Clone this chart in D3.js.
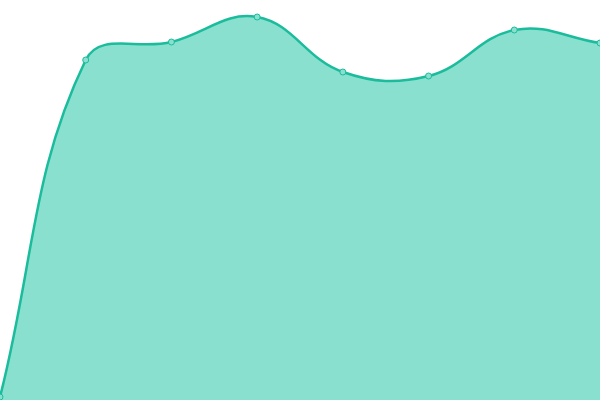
<!DOCTYPE html>
<html>
<head>
<meta charset="utf-8">
<script src="https://cdn.jsdelivr.net/npm/d3@7"></script>
<style>
  html, body { margin: 0; padding: 0; background: #fff; }
  svg { display: block; }
</style>
</head>
<body>
<div class="chart"></div>
<script>
// data
var categories = ["1", "2", "3", "4", "5", "6", "7", "8"];
var values = [3, 340, 358, 383, 328, 324, 370, 357];

var w = 600;
var h = 400;

// spline with distance-weighted control points (tension 0.4)
function Spline(context, tension) {
  this._context = context;
  this._tension = tension;
}

Spline.prototype = {
  areaStart: function() { this._line = 0; },
  areaEnd: function() { this._line = NaN; },
  lineStart: function() { this._xs = []; this._ys = []; },
  point: function(x, y) { this._xs.push(+x); this._ys.push(+y); },
  lineEnd: function() {
    var xs = this._xs, ys = this._ys, n = xs.length, ctx = this._context, t = this._tension;
    if (n) {
      if (this._line) ctx.lineTo(xs[0], ys[0]);
      else ctx.moveTo(xs[0], ys[0]);

      var cps = xs.map(function(x, i) {
        var y = ys[i];
        var px = xs[Math.max(i - 1, 0)], py = ys[Math.max(i - 1, 0)];
        var nx = xs[Math.min(i + 1, n - 1)], ny = ys[Math.min(i + 1, n - 1)];
        var d01 = Math.hypot(x - px, y - py);
        var d12 = Math.hypot(nx - x, ny - y);
        var s01 = d01 / (d01 + d12) || 0;
        var s12 = d12 / (d01 + d12) || 0;
        return {
          px: x - t * s01 * (nx - px), py: y - t * s01 * (ny - py),
          nx: x + t * s12 * (nx - px), ny: y + t * s12 * (ny - py)
        };
      });

      for (var i = 1; i < n; i++) {
        ctx.bezierCurveTo(cps[i - 1].nx, cps[i - 1].ny, cps[i].px, cps[i].py, xs[i], ys[i]);
      }
    }
    if (this._line || (this._line !== 0 && n === 1)) ctx.closePath();
    this._line = 1 - this._line;
  }
};

var curveSpline = function(context) { return new Spline(context, 0.4); };

var xScale = d3.scalePoint()
  .domain(categories)
  .range([0, w]);

var yScale = d3.scaleLinear()
  .domain([0, 400])
  .range([h, 0]);

var data = categories.map(function(c, i) {
  return {cat: c, value: values[i]};
});

var svg = d3.select(".chart")
  .append("svg")
  .attr("width", w)
  .attr("height", h);

var areaGen = d3.area()
  .curve(curveSpline)
  .x(function(d) { return xScale(d.cat); })
  .y0(yScale(0))
  .y1(function(d) { return yScale(d.value); });

var lineGen = d3.line()
  .curve(curveSpline)
  .x(function(d) { return xScale(d.cat); })
  .y(function(d) { return yScale(d.value); });

svg.append("path")
  .attr("d", areaGen(data))
  .attr("fill", "#8ae0cf");

svg.append("path")
  .attr("d", lineGen(data))
  .attr("stroke", "#1abc9c")
  .attr("stroke-width", 2.5)
  .attr("fill", "none");

svg.selectAll(".dot")
  .data(data)
  .enter()
  .append("circle")
  .attr("class", "dot")
  .attr("cx", function(d) { return xScale(d.cat); })
  .attr("cy", function(d) { return yScale(d.value); })
  .attr("r", 3)
  .attr("fill", "#8ae0cf")
  .attr("stroke", "#1abc9c")
  .attr("stroke-width", 1);
</script>
</body>
</html>
